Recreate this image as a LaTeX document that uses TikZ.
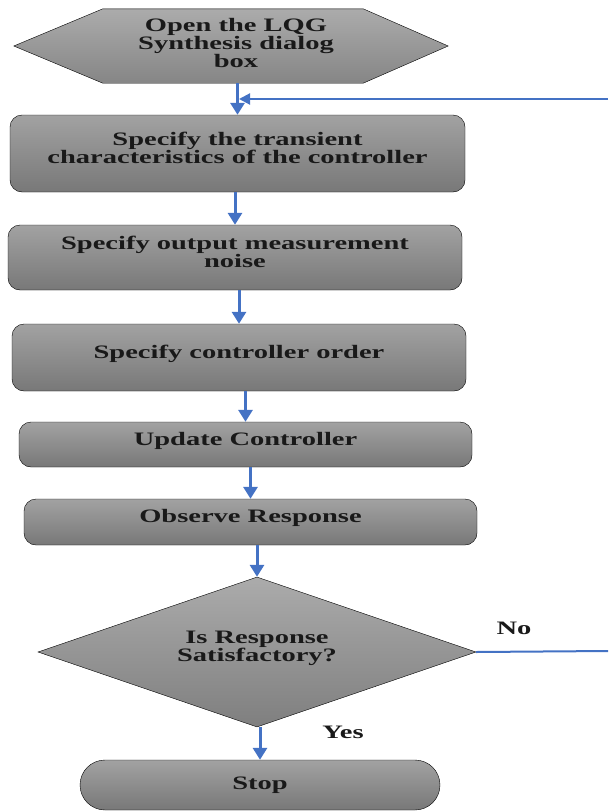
\documentclass[tikz,border=0pt]{standalone}
\usepackage{fontspec}
\setmainfont{Liberation Serif}[FakeStretch=1.5]
\usetikzlibrary{shapes.geometric,arrows.meta,calc}
\definecolor{flowblue}{RGB}{68,114,196}
\definecolor{boxtop}{RGB}{162,162,162}
\definecolor{boxbot}{RGB}{120,120,120}
\tikzset{
  lbl/.style={font=\bfseries\fontsize{19}{18}\selectfont, align=center, text=black!90},
  box/.style={lbl, draw=black, rounded corners=12pt, top color=boxtop, bottom color=boxbot, inner sep=0pt, text depth=12pt},
  decision/.style={lbl, diamond, aspect=2.9, draw=black, top color=boxtop!90, bottom color=boxbot!95, inner sep=0pt, text depth=12pt},
  terminal/.style={lbl, draw=black, rounded corners=25pt, top color=boxtop, bottom color=boxbot, inner sep=0pt},
  flow/.style={flowblue, line width=3pt, -{Triangle[width=14pt,length=12pt]}},
  back/.style={flowblue, line width=2pt, -{Triangle[width=11pt,length=11pt]}},
}
\begin{document}
\begin{tikzpicture}[x=1pt,y=-1pt]
\useasboundingbox (0,0) rectangle (608,811);

% start: hexagon
\node[lbl, minimum width=434, minimum height=74, inner sep=0pt] (open) at (231,46) {};
\shade[draw=black, top color=boxtop!90, bottom color=boxbot!90]
  (open.west) -- ($(open.north west)+(89,0)$) -- ($(open.north east)+(-85,0)$)
  -- (open.east) -- ($(open.south east)+(-85,0)$) -- ($(open.south west)+(89,0)$) -- cycle;
\node[lbl] at ($(open)+(5,-3)$) {Open the LQG\\Synthesis dialog\\box};

% process steps
\node[box, minimum width=455, minimum height=77] (trans) at (237.5,153.5)
  {Specify the transient\\characteristics of the controller};
\node[box, minimum width=454, minimum height=65] (noise) at (235,257.5)
  {Specify output measurement\\noise};
\node[box, minimum width=454, minimum height=67] (order) at (239,357.5)
  {Specify controller order};
\node[box, minimum width=453, minimum height=45] (update) at (245.5,444.5)
  {Update Controller};
\node[box, minimum width=453, minimum height=46] (observe) at (250.5,522)
  {Observe Response};
\node[decision, minimum width=438, minimum height=150] (check) at (257,652)
  {Is Response\\Satisfactory?};
\node[terminal, minimum width=360, minimum height=50] (stop) at (260,785) {Stop};

\node[lbl] (no) at (514,628) {No};
\node[lbl] (yes) at (343,732) {Yes};

\coordinate (noend) at (608,651);
\coordinate (backin) at (608,99);
\coordinate (merge) at (239,99);

% connectors
\draw[flow] (trans.north |- open.south) -- (trans.north);
\draw[flow] (noise.north |- trans.south) -- (noise.north);
\draw[flow] (order.north |- noise.south) -- (order.north);
\draw[flow] (update.north |- order.south) -- (update.north);
\draw[flow] (observe.north |- update.south) -- (observe.north);
\draw[flow] (check.north |- observe.south) -- (check.north);
\draw[flow] (stop.north |- check.south) -- (stop.north);
\draw[flowblue, line width=2pt] (check.east) -- (noend);
\draw[back] (backin) -- (merge);
\end{tikzpicture}
\end{document}
